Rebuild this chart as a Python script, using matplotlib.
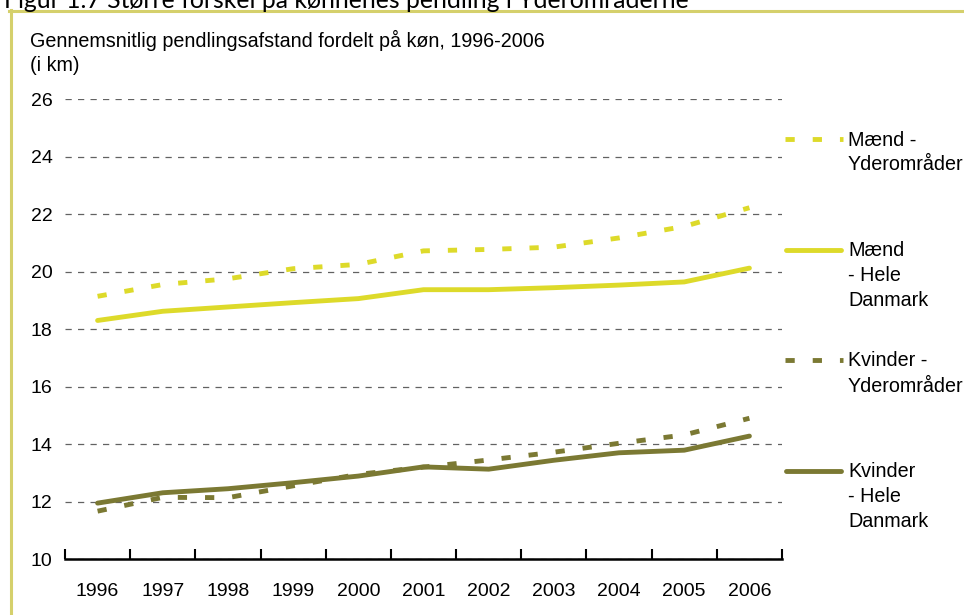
import numpy as np
import matplotlib
matplotlib.use("Agg")
import matplotlib.pyplot as plt
from matplotlib.lines import Line2D

# Average commuting distance (km) by gender, 1996-2006
years = ["1996", "1997", "1998", "1999", "2000", "2001",
         "2002", "2003", "2004", "2005", "2006"]
maend_yderomraader = [19.14, 19.55, 19.75, 20.10, 20.25, 20.72,
                      20.77, 20.85, 21.17, 21.57, 22.22]
maend_hele_dk = [18.30, 18.62, 18.77, 18.92, 19.06, 19.37,
                 19.37, 19.44, 19.53, 19.64, 20.12]
kvinder_yderomraader = [11.67, 12.15, 12.14, 12.55, 12.95, 13.20,
                        13.45, 13.72, 14.03, 14.32, 14.90]
kvinder_hele_dk = [11.95, 12.31, 12.45, 12.66, 12.89, 13.21,
                   13.13, 13.44, 13.70, 13.79, 14.28]
y_ticks = [10, 12, 14, 16, 18, 20, 22, 24, 26]

YELLOW = "#DDDA2A"
OLIVE = "#7B7933"
FRAME = "#D5D06C"
GRID = "#626262"

W, H = 964, 615
plt.rcParams["font.family"] = ["Liberation Sans", "DejaVu Sans"]

fig = plt.figure(figsize=(W / 100, H / 100), dpi=100)


def fx(px):
    return px / W


def fy(py):
    return 1 - py / H


ax = fig.add_axes([fx(65), fy(559.2), (782 - 65) / W, (559.2 - 99) / H])

x = np.arange(len(years))
dash_style = (0, (1.9, 3.7))
line_specs = [
    (maend_yderomraader, YELLOW, dash_style, "Mænd -\nYderområder"),
    (maend_hele_dk, YELLOW, "-", "Mænd\n- Hele\nDanmark"),
    (kvinder_yderomraader, OLIVE, dash_style, "Kvinder -\nYderområder"),
    (kvinder_hele_dk, OLIVE, "-", "Kvinder\n- Hele\nDanmark"),
]
for vals, col, ls, _ in line_specs:
    ax.plot(x, vals, color=col, linestyle=ls, linewidth=3.5,
            solid_capstyle="round", dash_capstyle="butt", zorder=3)

ax.set_xlim(-0.5, len(years) - 0.5)
ax.set_ylim(10, 26)
ax.set_yticks(y_ticks)
ax.set_yticklabels([str(v) for v in y_ticks])
ax.tick_params(axis="y", length=0, pad=9, labelsize=14, colors="black")

# category boundaries carry the tick marks, centres carry the year labels
ax.set_xticks(np.arange(-0.5, len(years), 1.0))
ax.set_xticklabels([])
ax.set_xticks(x, minor=True)
ax.set_xticklabels(years, minor=True)
ax.tick_params(axis="x", which="major", direction="in", length=7,
               width=1.5, color="black")
ax.tick_params(axis="x", which="minor", length=0, pad=17, labelsize=14)

for side in ("top", "right", "left"):
    ax.spines[side].set_visible(False)
ax.spines["bottom"].set_linewidth(1.8)
ax.spines["bottom"].set_color("black")
ax.spines["bottom"].set_zorder(4)

ax.grid(axis="y", color=GRID, linewidth=0.9, linestyle=(0, (5, 5)))
ax.grid(axis="x", visible=False)
ax.set_axisbelow(True)

# headings
fig.text(fx(4), fy(8), "Figur 1.7 Større forskel på kønnenes pendling i Yderområderne",
         fontsize=17.8, family="Lato", va="baseline", ha="left", color="black")
fig.text(fx(30), fy(46.7), "Gennemsnitlig pendlingsafstand fordelt på køn, 1996-2006",
         fontsize=14.2, va="baseline", ha="left")
fig.text(fx(30), fy(70.7), "(i km)", fontsize=14.2, va="baseline", ha="left")

# frame around the figure panel
fig.add_artist(Line2D([fx(10.5), fx(10.5)], [fy(10), fy(H + 5)],
                      transform=fig.transFigure, color=FRAME, linewidth=2.2))
fig.add_artist(Line2D([fx(9.4), fx(W + 5)], [fy(11), fy(11)],
                      transform=fig.transFigure, color=FRAME, linewidth=2.2))

# legend on the right, one entry per series
handle_y = [139, 249.5, 360, 470.5]
for (vals, col, ls, label), hy in zip(line_specs, handle_y):
    if ls == "-":
        hx = [fx(786), fx(841)]
    else:
        hx = [fx(785), fx(843)]
    fig.add_artist(Line2D(hx, [fy(hy), fy(hy)], transform=fig.transFigure,
                          color=col, linestyle=ls, linewidth=3.5,
                          solid_capstyle="round", dash_capstyle="butt"))
    for i, part in enumerate(label.split("\n")):
        fig.text(fx(848), fy(hy + 6.5 + 25 * i), part, fontsize=14.2,
                 va="baseline", ha="left")

fig.savefig("out.png", dpi=100, facecolor="white")
